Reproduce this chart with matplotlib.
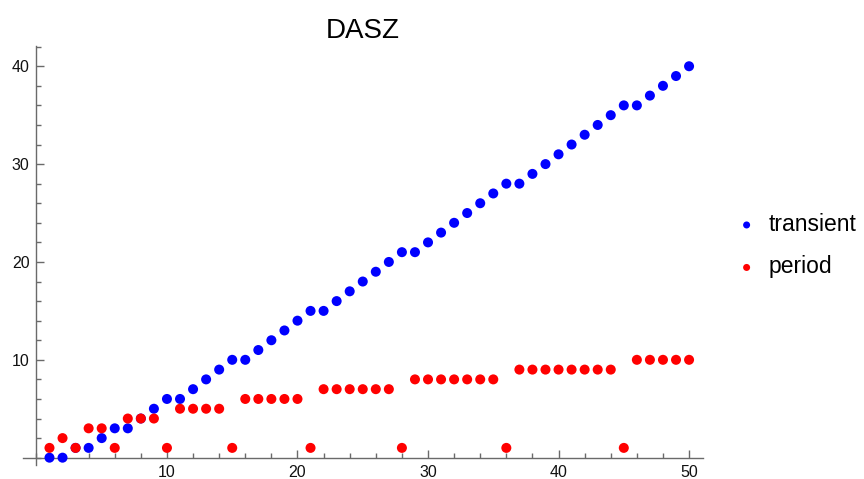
import numpy as np
import matplotlib
matplotlib.use('Agg')
import matplotlib.pyplot as plt
from matplotlib.ticker import MultipleLocator

plt.rcParams['font.family'] = ['Liberation Sans', 'DejaVu Sans']

n = np.arange(1, 51)
transient = [0, 0, 1, 1, 2, 3, 3, 4, 5, 6,
             6, 7, 8, 9, 10, 10, 11, 12, 13, 14,
             15, 15, 16, 17, 18, 19, 20, 21, 21, 22,
             23, 24, 25, 26, 27, 28, 28, 29, 30, 31,
             32, 33, 34, 35, 36, 36, 37, 38, 39, 40]
period = [1, 2, 1, 3, 3, 1, 4, 4, 4, 1,
          5, 5, 5, 5, 1, 6, 6, 6, 6, 6,
          1, 7, 7, 7, 7, 7, 7, 1, 8, 8,
          8, 8, 8, 8, 8, 1, 9, 9, 9, 9,
          9, 9, 9, 9, 1, 10, 10, 10, 10, 10]

fig = plt.figure(figsize=(8.64, 4.79), dpi=100)
ax = fig.add_axes([0.0263, 0.0292, 0.7874, 0.8748])

ax.scatter(n, transient, s=52, color='#0000ff', edgecolors='none', label='transient', zorder=3)
ax.scatter(n, period, s=52, color='#ff0000', edgecolors='none', label='period', zorder=4)

ax.set_xlim(-1.05, 51.07)
ax.set_ylim(-0.75, 42.07)

axis_col = '#6a6a6a'
for side in ['top', 'right']:
    ax.spines[side].set_visible(False)
ax.spines['left'].set_position(('data', 0))
ax.spines['bottom'].set_position(('data', 0))
for side in ['left', 'bottom']:
    ax.spines[side].set_color(axis_col)
    ax.spines[side].set_linewidth(1.0)

ax.xaxis.set_minor_locator(MultipleLocator(2))
ax.yaxis.set_minor_locator(MultipleLocator(2))
ax.set_xticks([10, 20, 30, 40, 50])
ax.set_yticks([10, 20, 30, 40])
ax.tick_params(which='both', direction='in', color=axis_col, width=1.0,
               labelsize=11.5, labelcolor='#111111')
ax.tick_params(which='major', length=6)
ax.tick_params(which='minor', length=3.5)
ax.tick_params(axis='x', pad=5)
ax.tick_params(axis='y', pad=5)

ax.set_title('DASZ', fontsize=20, pad=6)

fig.legend(loc='center left', bbox_to_anchor=(0.827, 0.487), frameon=False,
           fontsize=16.5, markerscale=0.7, handletextpad=0.45, labelspacing=0.85,
           handlelength=1.0)

fig.savefig('out.png', dpi=100)
